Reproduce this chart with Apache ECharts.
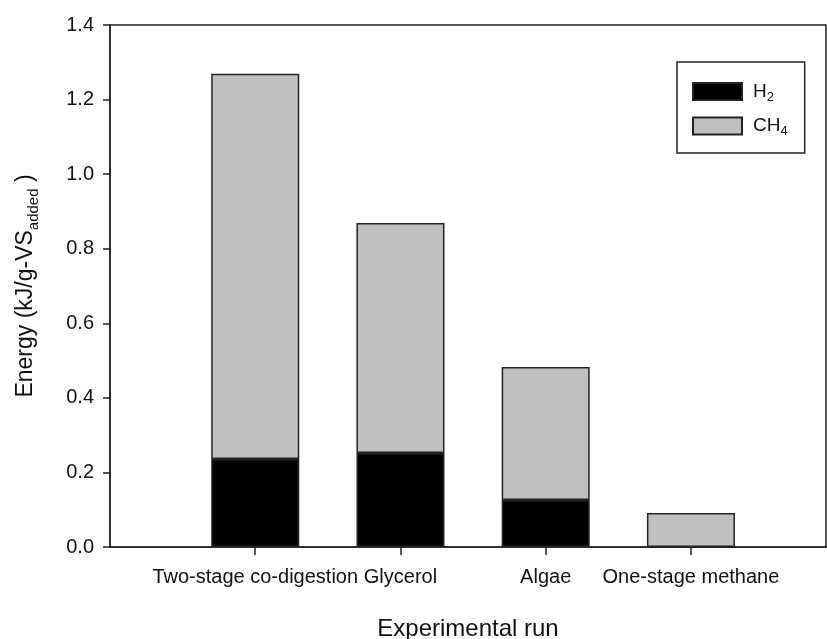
<!DOCTYPE html>
<html>
<head>
<meta charset="utf-8">
<script src="https://cdn.jsdelivr.net/npm/echarts@6/dist/echarts.min.js"></script>
<style>
html,body{margin:0;padding:0;background:#fff;}
#chart{width:827px;height:639px;}
</style>
</head>
<body>
<div id="chart"></div>
<script>
// Data
const categories = ['Two-stage co-digestion', 'Glycerol', 'Algae', 'One-stage methane'];
const h2Values = [0.236, 0.252, 0.126, 0];
const ch4Values = [1.033, 0.617, 0.357, 0.091];
const yTicks = [0, 0.2, 0.4, 0.6, 0.8, 1.0, 1.2, 1.4];
const xPositions = [1, 2, 3, 4];

// [value, position] pairs; encode maps dim 1 -> x, dim 0 -> y so stacking happens on y
const h2Data = xPositions.map((x, i) => [h2Values[i], x]);
const ch4Data = xPositions.map((x, i) => [ch4Values[i], x]);

const chart = echarts.init(document.getElementById('chart'), null, {renderer: 'canvas'});
const FONT = 'Liberation Sans, Arial, sans-serif';
const txt = '#111';

chart.setOption({
  animation: false,
  backgroundColor: '#fff',
  textStyle: {fontFamily: FONT},
  grid: {
    left: 110, top: 25, right: 1, bottom: 92,
    containLabel: false,
    outerBoundsMode: 'none',
    show: true, borderColor: '#222', borderWidth: 1.5, backgroundColor: 'transparent'
  },
  legend: {
    left: 677, top: 62,
    orient: 'vertical',
    padding: [20, 17, 15, 15],
    itemWidth: 49, itemHeight: 17, itemGap: 13,
    icon: 'rect',
    borderColor: '#222', borderWidth: 1.5,
    backgroundColor: '#fff',
    data: ['H2', 'CH4'],
    formatter: function (name) {
      return name === 'H2' ? '{n|H}{s|2}' : '{n|CH}{s|4}';
    },
    textStyle: {
      fontFamily: FONT,
      padding: [0, 0, 0, 6],
      rich: {
        n: {fontSize: 19, color: txt, lineHeight: 24, fontFamily: FONT},
        s: {fontSize: 13, color: txt, lineHeight: 12, verticalAlign: 'bottom', fontFamily: FONT}
      }
    }
  },
  xAxis: {
    type: 'value',
    min: 0, max: 4.93, interval: 1,
    name: 'Experimental run',
    nameLocation: 'middle',
    nameGap: 70,
    nameTextStyle: {fontSize: 24, color: txt, fontFamily: FONT},
    axisLine: {show: true, lineStyle: {color: '#222', width: 1.5}},
    axisTick: {show: true, length: 8, customValues: xPositions, lineStyle: {color: '#222', width: 1.5}},
    axisLabel: {
      margin: 20, fontSize: 20, color: txt, fontFamily: FONT,
      customValues: xPositions,
      formatter: function (v) { return categories[Math.round(v) - 1] || ''; }
    },
    splitLine: {show: false}
  },
  yAxis: {
    type: 'value',
    min: yTicks[0], max: yTicks[yTicks.length - 1], interval: 0.2,
    name: '{n|Energy (kJ/g-VS}{s|added}{n| )}',
    nameLocation: 'middle',
    nameGap: 69,
    nameTextStyle: {
      fontFamily: FONT,
      rich: {
        n: {fontSize: 23, color: txt, lineHeight: 30, fontFamily: FONT},
        s: {fontSize: 15, color: txt, lineHeight: 15, verticalAlign: 'bottom', fontFamily: FONT}
      }
    },
    axisLine: {show: true, lineStyle: {color: '#222', width: 1.5}},
    axisTick: {show: true, length: 7, lineStyle: {color: '#222', width: 1.5}},
    axisLabel: {
      margin: 16, fontSize: 20, color: txt, fontFamily: FONT,
      formatter: function (v) { return v.toFixed(1); }
    },
    splitLine: {show: false}
  },
  series: [
    {
      name: 'H2', type: 'bar', stack: 'energy', barWidth: 88,
      encode: {x: 1, y: 0},
      data: h2Data,
      itemStyle: {color: '#000', borderColor: '#222', borderWidth: 1.5}
    },
    {
      name: 'CH4', type: 'bar', stack: 'energy', barWidth: 88,
      encode: {x: 1, y: 0},
      data: ch4Data,
      itemStyle: {color: '#c0c0c0', borderColor: '#222', borderWidth: 1.5}
    }
  ]
});
</script>
</body>
</html>
